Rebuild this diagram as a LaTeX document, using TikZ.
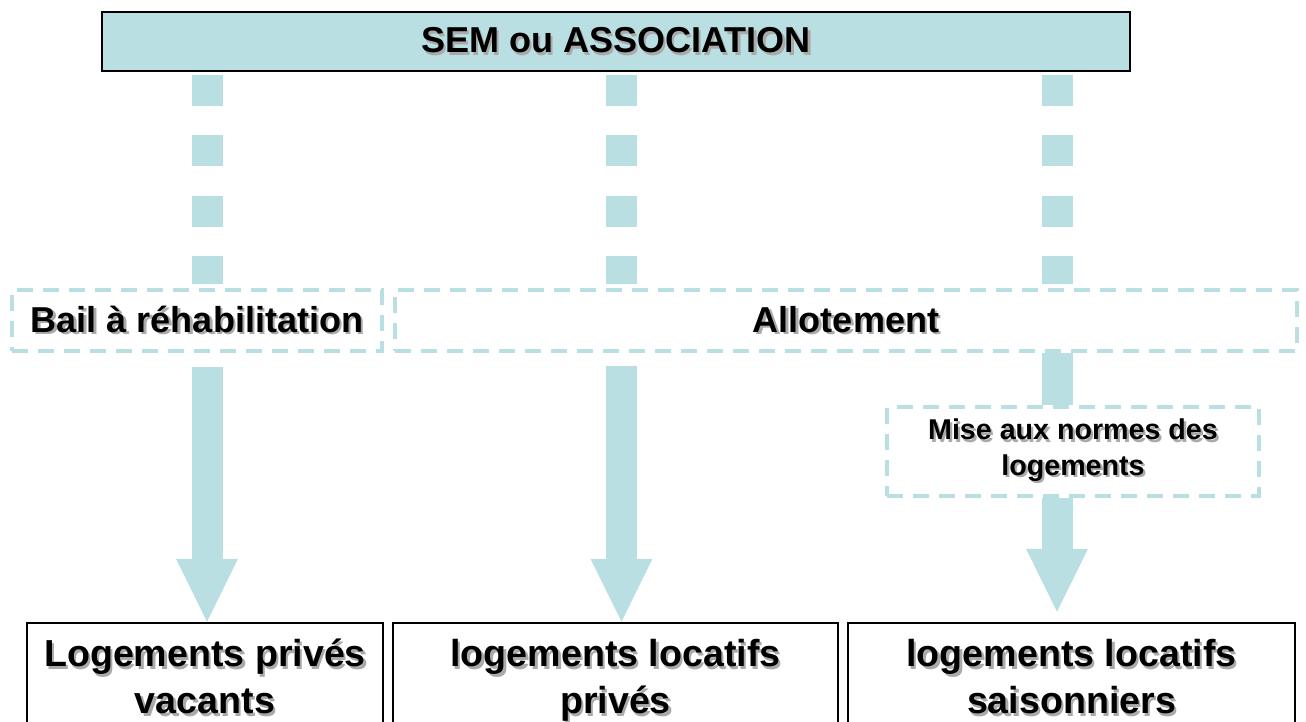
\documentclass[tikz,border=0pt]{standalone}
\usepackage{fontspec}
\setmainfont{Liberation Sans}
\usetikzlibrary{arrows.meta}
\definecolor{sea}{RGB}{185,223,226}
\definecolor{shadowgrey}{RGB}{170,170,170}
% text with a soft grey drop shadow
\newcommand\shtxt[1]{\makebox[0pt][l]{\hspace{1.3pt}\raisebox{-1.3pt}{\color{shadowgrey}#1}}#1}
\tikzset{
>={Triangle[width=1.24cm,length=1.26cm,line width=0pt]},
	headbox/.style={
		rectangle,
		sharp corners,
		fill=sea,
		draw=black, line width=1.1pt,
		minimum width=20.56cm,
		minimum height=1.18cm,
		font=\fontsize{20.5}{24}\selectfont\bfseries,
		text centered},
	dashbox/.style={
		rectangle,
		draw=sea, line width=0.08cm,
		dash pattern=on 0.32cm off 0.2cm,
		minimum height=1.22cm,
		font=\fontsize{20.5}{24}\selectfont\bfseries,
		text centered},
	notebox/.style={
		dashbox,
		minimum width=7.44cm,
		minimum height=1.76cm,
		font=\fontsize{16.3}{20.2}\selectfont\bfseries,
		align=center},
	endbox/.style={
		rectangle,
		sharp corners,
		draw=black, line width=1.4pt,
		minimum height=2.32cm,
		font=\fontsize{21.4}{26.6}\selectfont\bfseries,
		align=center},
	link/.style={draw=sea, line width=0.62cm},
	dotlink/.style={link, dash pattern=on 0.62cm off 0.59cm}
}

\begin{document}
\begin{tikzpicture}
[node distance=5.58cm]
\useasboundingbox (0,0) rectangle (26.12,-14.44);
\clip (0,0) rectangle (26.12,-14.44);
\node[headbox] (sem) at (12.32,-0.83) {\shtxt{SEM ou ASSOCIATION}};
\node[dashbox, below of=sem, xshift=-8.38cm, minimum width=7.4cm] (bail) {\shtxt{Bail à réhabilitation}};
\node[dashbox, below of=sem, xshift=4.6cm, minimum width=18.04cm] (allot) {\shtxt{Allotement}};
\node[notebox, node distance=2.62cm, below of=allot, xshift=4.54cm] (mise) {\shtxt{Mise aux normes des}\\\shtxt{logements}};
\node[endbox, node distance=7.21cm, below of=bail, xshift=0.16cm, minimum width=7.12cm] (vacants) {\shtxt{Logements privés}\strut\\\shtxt{vacants}\strut};
\node[endbox, node distance=8.21cm, right of=vacants, minimum width=8.9cm] (prives) {\shtxt{logements locatifs}\strut\\\shtxt{privés}\strut};
\node[endbox, node distance=9.12cm, right of=prives, minimum width=8.94cm] (saison) {\shtxt{logements locatifs}\strut\\\shtxt{saisonniers}\strut};
% the three columns under the top box
\coordinate (c1) at ([xshift=-8.18cm]sem.south);
\coordinate (c2) at ([xshift=0.11cm]sem.south);
\coordinate (c3) at ([xshift=8.82cm]sem.south);
\draw[dotlink, shorten <=0.06cm, shorten >=0.08cm] (c1) -- (c1 |- bail.north);
\draw[dotlink, shorten <=0.06cm, shorten >=0.08cm] (c2) -- (c2 |- allot.north);
\draw[dotlink, shorten <=0.06cm, shorten >=0.08cm] (c3) -- (c3 |- allot.north);
\draw[link, ->, shorten <=0.28cm] (c1 |- bail.south) -- (c1 |- vacants.north);
\draw[link, ->, shorten <=0.26cm] (c2 |- allot.south) -- (c2 |- prives.north);
\draw[link] (c3 |- allot.south) -- (c3 |- mise.north);
\draw[link, ->, shorten >=0.2cm] (c3 |- mise.south) -- (c3 |- saison.north);
\end{tikzpicture}
\end{document}
